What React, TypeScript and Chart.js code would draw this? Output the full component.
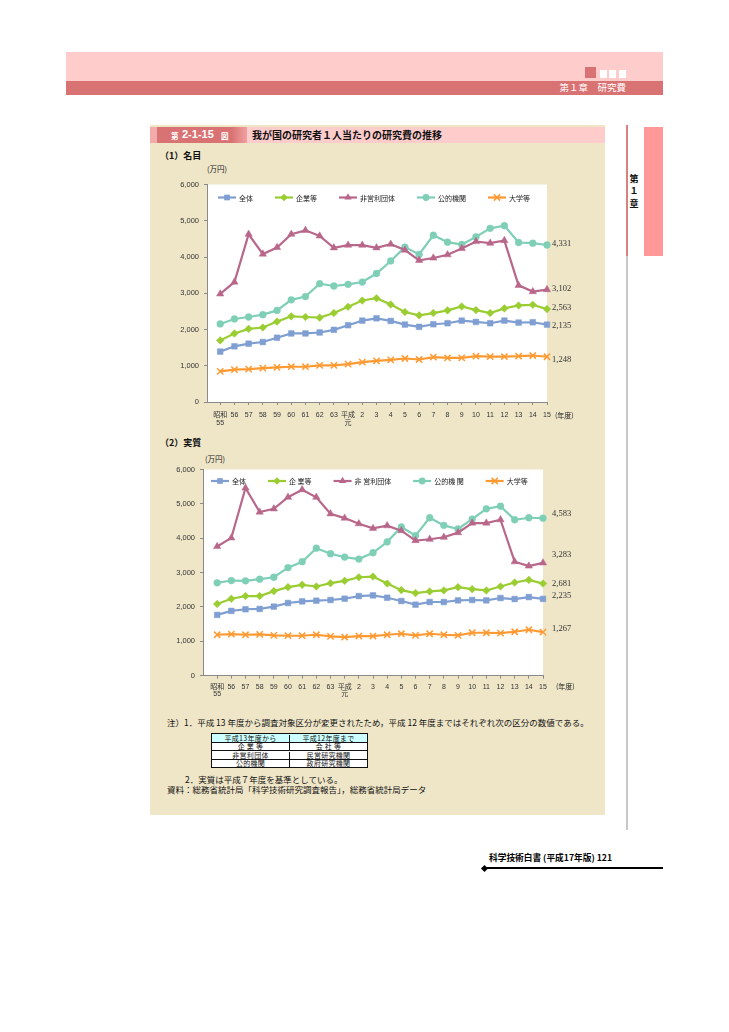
import React, { useEffect, useRef } from "react";
import { Chart, registerables } from "chart.js";
Chart.register(...registerables);

// ---------- DATA ----------
const xLabels: (string | string[])[] = [
  ["昭和", "55"], "56", "57", "58", "59", "60", "61", "62", "63", ["平成", "元"],
  "2", "3", "4", "5", "6", "7", "8", "9", "10", "11", "12", "13", "14", "15",
];
const seriesNames = ["全体", "企業等", "非営利団体", "公的機関", "大学等"];
const seriesNamesReal = ["全体", "企 業等", "非 営利団体", "公的機 関", "大学等"];

// (1) 名目 (万円)
const nominalAll = [1390, 1536, 1609, 1654, 1773, 1891, 1891, 1918, 1991, 2118, 2245, 2309, 2236, 2136, 2073, 2145, 2173, 2245, 2209, 2173, 2245, 2191, 2200, 2135];
const nominalBiz = [1700, 1891, 2018, 2054, 2218, 2363, 2345, 2327, 2454, 2627, 2800, 2863, 2691, 2482, 2391, 2454, 2527, 2636, 2536, 2454, 2582, 2663, 2682, 2563];
const nominalNpo = [2982, 3309, 4627, 4082, 4263, 4627, 4736, 4581, 4254, 4327, 4327, 4254, 4354, 4191, 3909, 3972, 4063, 4236, 4427, 4381, 4454, 3218, 3045, 3102];
const nominalPub = [2154, 2291, 2345, 2409, 2527, 2818, 2909, 3263, 3200, 3245, 3309, 3545, 3891, 4272, 4072, 4600, 4409, 4345, 4554, 4790, 4863, 4400, 4381, 4331];
const nominalUniv = [845, 891, 909, 936, 954, 973, 973, 1009, 1009, 1045, 1100, 1136, 1163, 1200, 1172, 1236, 1218, 1218, 1263, 1254, 1254, 1263, 1282, 1248];
const nominalEndLabels = ["2,135", "2,563", "3,102", "4,331", "1,248"];

// (2) 実質 (万円)
const realAll = [1769, 1885, 1933, 1942, 2010, 2115, 2163, 2183, 2202, 2240, 2317, 2337, 2269, 2173, 2067, 2144, 2144, 2192, 2202, 2192, 2260, 2231, 2288, 2235];
const realBiz = [2086, 2240, 2317, 2317, 2461, 2577, 2644, 2596, 2692, 2760, 2865, 2885, 2683, 2490, 2404, 2452, 2481, 2577, 2519, 2481, 2596, 2711, 2788, 2681];
const realNpo = [3760, 4010, 5461, 4760, 4856, 5192, 5413, 5192, 4711, 4586, 4423, 4288, 4365, 4221, 3933, 3971, 4029, 4163, 4442, 4442, 4538, 3317, 3192, 3283];
const realPub = [2702, 2769, 2760, 2808, 2865, 3144, 3317, 3711, 3548, 3452, 3394, 3577, 3894, 4327, 4077, 4596, 4375, 4269, 4558, 4856, 4933, 4538, 4596, 4583];
const realUniv = [1192, 1211, 1192, 1202, 1173, 1163, 1163, 1192, 1144, 1125, 1154, 1154, 1192, 1221, 1173, 1221, 1192, 1173, 1250, 1250, 1240, 1279, 1337, 1267];
const realEndLabels = ["2,235", "2,681", "3,283", "4,583", "1,267"];

const yMax = 6000;
const yStep = 1000;

// ---------- STYLE ----------
const COLORS = ["#7F9ED2", "#9ACD32", "#B8678A", "#7ECFB5", "#FF9A33"];
const POINT_STYLES = ["rect", "rectRot", "triangle", "circle", "crossRot"];
const POINT_RADII = [4, 3.8, 4.2, 3.4, 4.4];
const CJK = "'Noto Sans CJK JP', sans-serif";
const TICK_FONT = "'Liberation Sans', 'Noto Sans CJK JP', sans-serif";

function drawMarker(ctx: CanvasRenderingContext2D, style: string, x: number, y: number, r: number, color: string) {
  ctx.save();
  ctx.fillStyle = color;
  ctx.strokeStyle = color;
  ctx.lineWidth = 1.5;
  ctx.beginPath();
  if (style === "rect") {
    const h = r * Math.SQRT1_2;
    ctx.rect(x - h, y - h, 2 * h, 2 * h);
    ctx.fill();
  } else if (style === "rectRot") {
    ctx.moveTo(x, y - r); ctx.lineTo(x + r, y); ctx.lineTo(x, y + r); ctx.lineTo(x - r, y); ctx.closePath();
    ctx.fill();
  } else if (style === "triangle") {
    const a = (2 * Math.PI) / 3;
    ctx.moveTo(x, y - r);
    ctx.lineTo(x + Math.sin(a) * r, y - Math.cos(a) * r);
    ctx.lineTo(x + Math.sin(2 * a) * r, y - Math.cos(2 * a) * r);
    ctx.closePath();
    ctx.fill();
  } else if (style === "circle") {
    ctx.arc(x, y, r, 0, Math.PI * 2);
    ctx.fill();
  } else {
    const o = r * Math.SQRT1_2;
    ctx.moveTo(x - o, y - o); ctx.lineTo(x + o, y + o);
    ctx.moveTo(x + o, y - o); ctx.lineTo(x - o, y + o);
    ctx.stroke();
  }
  ctx.restore();
}

type Spec = {
  series: number[][];
  names: string[];
  endLabels: string[];
  endDy: number[];
  left: number; top: number; width: number; height: number;
  yWidth: number; xHeight: number; padTop: number; padRight: number;
  xMin: number; xLabelPad: number;
  legendDx: number; legendDy: number; endDx: number;
};

function LineChart({ spec }: { spec: Spec }) {
  const ref = useRef<HTMLCanvasElement>(null);
  useEffect(() => {
    if (!ref.current) return;
    const bgPlugin = {
      id: "bg",
      beforeDraw(chart: any) {
        const { ctx, chartArea: a } = chart;
        ctx.save();
        ctx.fillStyle = "#FFFFFF";
        ctx.fillRect(a.left, a.top, a.right - a.left, a.bottom - a.top);
        ctx.restore();
      },
    };
    const legendPlugin = {
      id: "inlegend",
      afterDraw(chart: any) {
        const { ctx, chartArea: a } = chart;
        ctx.save();
        ctx.font = `7px ${CJK}`;
        ctx.textBaseline = "middle";
        let x = a.left + spec.legendDx;
        const y = a.top + spec.legendDy;
        spec.names.forEach((name, i) => {
          ctx.strokeStyle = COLORS[i];
          ctx.lineWidth = 2.2;
          ctx.beginPath();
          ctx.moveTo(x, y); ctx.lineTo(x + 18, y);
          ctx.stroke();
          drawMarker(ctx, POINT_STYLES[i], x + 9, y, POINT_RADII[i], COLORS[i]);
          ctx.fillStyle = "#222";
          ctx.fillText(name, x + 21, y + 0.5);
          x += 21 + ctx.measureText(name).width + 22;
        });
        ctx.restore();
      },
    };
    const endLabelPlugin = {
      id: "endlabels",
      afterDraw(chart: any) {
        const { ctx, chartArea: a } = chart;
        const ys = chart.scales.y;
        ctx.save();
        ctx.font = `8.5px 'Liberation Serif', serif`;
        ctx.fillStyle = "#333";
        ctx.textBaseline = "middle";
        spec.series.forEach((vals, i) => {
          const v = vals[vals.length - 1];
          ctx.fillText(spec.endLabels[i], a.right + spec.endDx, ys.getPixelForValue(v) + spec.endDy[i]);
        });
        ctx.restore();
      },
    };
    const chart = new Chart(ref.current, {
      type: "line",
      data: {
        datasets: spec.series.map((vals, i) => ({
          label: spec.names[i],
          data: vals.map((v, k) => ({ x: k, y: v })),
          borderColor: COLORS[i],
          backgroundColor: COLORS[i],
          borderWidth: 2.2,
          pointStyle: POINT_STYLES[i] as any,
          pointRadius: POINT_RADII[i],
          pointBorderWidth: POINT_STYLES[i] === "crossRot" ? 1.5 : 0.5,
          pointBackgroundColor: COLORS[i],
          pointBorderColor: COLORS[i],
          tension: 0,
          clip: false as any,
        })),
      },
      options: {
        animation: false,
        responsive: false,
        events: [],
        layout: { padding: { left: 0, right: spec.padRight, top: spec.padTop, bottom: 0 } },
        plugins: { legend: { display: false }, tooltip: { enabled: false } },
        scales: {
          x: {
            type: "linear",
            min: spec.xMin,
            max: xLabels.length - 1,
            afterBuildTicks: (s: any) => { s.ticks = xLabels.map((_, i) => ({ value: i })); },
            afterFit: (s: any) => { s.height = spec.xHeight; },
            grid: { drawOnChartArea: false, drawTicks: true, tickLength: 3, color: "#8A8A8A" },
            border: { color: "#8A8A8A", width: 1 },
            ticks: {
              autoSkip: false,
              maxRotation: 0,
              padding: spec.xLabelPad,
              color: "#333",
              font: { family: TICK_FONT, size: 7, lineHeight: 1.1 },
              callback: (v: any) => xLabels[Math.round(Number(v))] as any,
            },
          },
          y: {
            min: 0,
            max: yMax,
            afterFit: (s: any) => { s.width = spec.yWidth; },
            grid: { drawOnChartArea: false, drawTicks: true, tickLength: 3, color: "#8A8A8A" },
            border: { color: "#8A8A8A", width: 1 },
            ticks: {
              stepSize: yStep,
              padding: 5,
              color: "#333",
              font: { family: TICK_FONT, size: 7.5 },
              callback: (v: any) => Number(v).toLocaleString("en-US"),
            },
          },
        },
      },
      plugins: [bgPlugin, legendPlugin, endLabelPlugin],
    } as any);
    return () => chart.destroy();
  }, []);
  return (
    <canvas
      ref={ref}
      width={spec.width}
      height={spec.height}
      style={{ position: "absolute", left: spec.left, top: spec.top, width: spec.width, height: spec.height }}
    />
  );
}

const T = ({ x, y, s, b, c, ff, w, align, children }: any) => (
  <div
    style={{
      position: "absolute",
      left: x,
      top: y - s * 0.55,
      width: w,
      textAlign: align,
      fontSize: s,
      lineHeight: `${s}px`,
      fontWeight: b ? "bold" : "normal",
      color: c || "#222",
      fontFamily: ff || CJK,
      whiteSpace: "nowrap",
    }}
  >
    {children}
  </div>
);

const Box = ({ x, y, w, h, bg, extra }: any) => (
  <div style={{ position: "absolute", left: x, top: y, width: w, height: h, background: bg, ...(extra || {}) }} />
);

const spec1: Spec = {
  series: [nominalAll, nominalBiz, nominalNpo, nominalPub, nominalUniv],
  names: seriesNames,
  endLabels: nominalEndLabels,
  endDy: [1.5, -1, -1, -1, 3],
  left: 155, top: 175, width: 445, height: 255,
  yWidth: 52, xHeight: 28, padTop: 7, padRight: 53,
  xMin: -0.93, xLabelPad: 6.6,
  legendDx: 11, legendDy: 13, endDx: 5,
};
const spec2: Spec = {
  series: [realAll, realBiz, realNpo, realPub, realUniv],
  names: seriesNamesReal,
  endLabels: realEndLabels,
  endDy: [-3, 0, -8, -4, -3],
  left: 155, top: 460, width: 445, height: 245,
  yWidth: 48, xHeight: 29.3, padTop: 7.5, padRight: 57,
  xMin: -1, xLabelPad: 4.2,
  legendDx: 8, legendDy: 11.5, endDx: 9,
};

const cell: React.CSSProperties = {
  flex: 1, height: 7, display: "flex", alignItems: "center", justifyContent: "center",
  fontSize: 7, lineHeight: "7px", whiteSpace: "nowrap", overflow: "visible", letterSpacing: 0.3,
};

function NoteTable() {
  const rows = [
    ["平成13年度から", "平成12年度まで"],
    ["企 業 等", "会 社 等"],
    ["非営利団体", "民営研究機関"],
    ["公的機関", "政府研究機関"],
  ];
  return (
    <div style={{ position: "absolute", left: 211, top: 733, width: 157, border: "1.5px solid #111", boxSizing: "border-box", fontFamily: CJK, color: "#111" }}>
      {rows.map((r, i) => (
        <div key={i} style={{ display: "flex", background: i === 0 ? "#CCFFFF" : "#FFFFFF", borderTop: i > 0 ? "1px solid #111" : "none", paddingTop: 0.5 }}>
          <div style={{ ...cell, borderRight: "1px solid #111" }}>{r[0]}</div>
          <div style={cell}>{r[1]}</div>
        </div>
      ))}
    </div>
  );
}

export default function App() {
  return (
    <div style={{ position: "absolute", left: 0, top: 0, width: 729, height: 1032, background: "#FFFFFF", overflow: "hidden" }}>
      {/* header */}
      <Box x={66} y={52} w={597} h={29} bg="#FFCCCC" />
      <Box x={66} y={81} w={597} h={14} bg="#D97373" />
      <Box x={585} y={67} w={11} h={11} bg="#D97373" />
      <Box x={600} y={70} w={7} h={8} bg="#FFFFFF" />
      <Box x={609} y={70} w={7} h={8} bg="#FFFFFF" />
      <Box x={619} y={70} w={7} h={8} bg="#FFFFFF" />
      <T x={520} y={88.5} s={9.5} w={106} align="right" c="#FFFFFF">第１章　研究費</T>

      {/* right side */}
      <Box x={626} y={125} w={2} h={131} bg="#D98080" />
      <Box x={626} y={256} w={2} h={574} bg="#C8C8C8" />
      <Box x={644} y={127} w={19} h={129} bg="#FF9999" />
      <T x={627} y={179} s={9} b w={14} align="center" c="#111">第</T>
      <T x={627} y={191} s={9} b w={14} align="center" c="#111">１</T>
      <T x={627} y={204} s={9} b w={14} align="center" c="#111">章</T>

      {/* figure box */}
      <Box x={150} y={125} w={455} h={690} bg="#EFE6C8" />
      <Box x={150} y={127} w={455} h={16} bg="#FFCCCC" />
      <Box x={150} y={127} w={7} h={16} bg="#F2AAAA" />
      <Box x={157} y={127} w={90} h={16} bg="linear-gradient(to right, #D97373 0%, #D97373 83%, #F0A0A0 100%)" />
      <T x={171} y={136} s={7.5} b c="#FFFFFF">第</T>
      <T x={182} y={135.5} s={11} b c="#FFFFFF" ff="'Liberation Sans', sans-serif">2-1-15</T>
      <T x={221} y={136} s={7.5} b c="#FFFFFF">図</T>
      <T x={252} y={135.5} s={10} b c="#111">我が国の研究者１人当たりの研究費の推移</T>

      <T x={160} y={155.5} s={9} b c="#111">（1）名目</T>
      <T x={207} y={169} s={7.5} c="#222">(万円)</T>
      <LineChart spec={spec1} />
      <T x={555} y={415.5} s={7} c="#222">(年度)</T>

      <T x={160} y={443} s={9} b c="#111">（2）実質</T>
      <T x={205} y={459} s={7.5} c="#222">(万円)</T>
      <LineChart spec={spec2} />
      <T x={556} y={686.7} s={7} c="#222">(年度)</T>

      {/* notes */}
      <T x={167} y={723} s={8.5} c="#111">注）1．平成 13 年度から調査対象区分が変更されたため，平成 12 年度まではそれぞれ次の区分の数値である。</T>
      <NoteTable />
      <T x={185} y={779.3} s={8.5} c="#111">2．実質は平成７年度を基準としている。</T>
      <T x={167} y={789.3} s={8.5} c="#111">資料：総務省統計局「科学技術研究調査報告」，総務省統計局データ</T>

      {/* footer */}
      <T x={489} y={859} s={8.7} b c="#000">科学技術白書 (平成17年版) 121</T>
      <Box x={485} y={867} w={178} h={2} bg="#000" />
      <Box x={482} y={865.5} w={5} h={5} bg="#000" extra={{ transform: "rotate(45deg)" }} />
    </div>
  );
}
